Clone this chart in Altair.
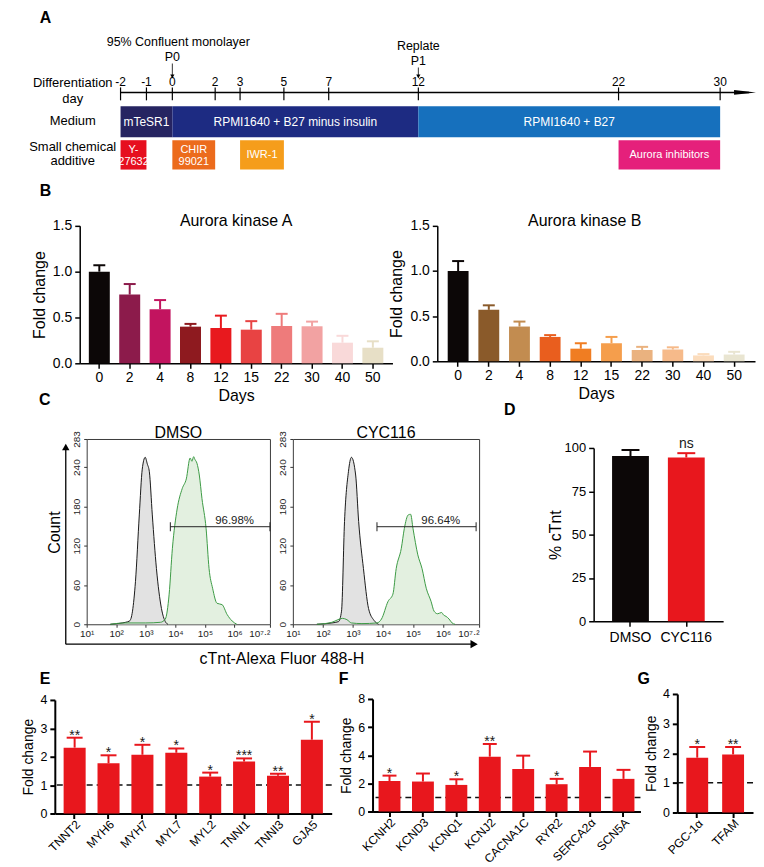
import altair as alt
import numpy as np
import pandas as pd

FONT = "Liberation Sans"
RED = "#e8171d"
BLACK = "#0c0707"

# ---------------- Panel A: protocol timeline ----------------
day_ticks = [-2, -1, 0, 2, 3, 5, 7, 12, 22, 30]
day_labels = ["-2", "-1", "0", "2", "3", "5", "7", "12", "22", "30"]
medium_names = ["mTeSR1", "RPMI1640 + B27 minus insulin", "RPMI1640 + B27"]
medium_start = [-2, 0, 12]
medium_end = [0, 12, 30]
additive_names = ["Y-\n27632", "CHIR\n99021", "IWR-1", "Aurora inhibitors"]
additive_start = [-2, 0, 3, 22]
additive_end = [-1, 2, 5, 30]
event_names = ["95% Confluent monolayer", "Replate"]
event_passages = ["P0", "P1"]
event_days = [0, 12]
row_labels = ["Differentiation\nday", "Medium", "Small chemical\nadditive"]

# ---------------- Panel B: Aurora kinase expression ----------------
days = ["0", "2", "4", "8", "12", "15", "22", "30", "40", "50"]
aurka_mean = [1.00, 0.75, 0.59, 0.40, 0.385, 0.367, 0.407, 0.404, 0.225, 0.17]
aurka_sem = [0.07, 0.115, 0.10, 0.03, 0.135, 0.093, 0.133, 0.051, 0.075, 0.07]
aurkb_mean = [1.00, 0.57, 0.385, 0.27, 0.14, 0.20, 0.125, 0.13, 0.065, 0.075]
aurkb_sem = [0.11, 0.05, 0.055, 0.02, 0.06, 0.07, 0.035, 0.025, 0.015, 0.03]

# ---------------- Panel C: flow cytometry histograms (log10 intensity, count) ----------------
dmso_gray_x = [1.8, 2.2, 2.45, 2.55, 2.65, 2.78, 2.88, 2.98, 3.05, 3.12, 3.22, 3.36, 3.53, 3.66, 3.75]
dmso_gray_y = [0, 2, 5, 20, 65, 167, 237, 255, 245, 233, 167, 85, 24, 4, 0]
dmso_green_x = [1.8, 2.3, 3.0, 3.5, 3.66, 3.79, 3.9, 4.06, 4.23, 4.37, 4.5, 4.56, 4.62, 4.66,
                4.73, 4.81, 4.9, 5.04, 5.14, 5.26, 5.41, 5.58, 5.75, 5.92, 6.08]
dmso_green_y = [0, 2, 2, 3, 8, 46, 116, 176, 207, 222, 254, 249, 256, 252,
                246, 228, 192, 146, 85, 55, 32, 30, 15, 5, 0]
cyc_gray_x = [1.8, 2.3, 2.52, 2.62, 2.72, 2.85, 2.95, 3.09, 3.19, 3.35, 3.52, 3.7, 3.85]
cyc_gray_y = [0, 2, 4, 20, 157, 233, 255, 228, 157, 85, 24, 6, 0]
cyc_green_x = [1.8, 2.3, 2.5, 2.65, 2.8, 2.95, 3.3, 3.8, 3.95, 4.17, 4.33, 4.44, 4.61, 4.71,
               4.84, 4.92, 5.0, 5.16, 5.3, 5.44, 5.6, 5.7, 5.82, 5.95, 6.02, 6.1, 6.2, 6.3, 6.4]
cyc_green_y = [0, 3, 7, 9, 7, 2, 1, 2, 8, 35, 46, 85, 116, 146,
               167, 168, 146, 106, 85, 55, 35, 20, 16, 18, 14, 12, 8, 2, 0]
dmso_gate = [3.83, 7.2, 149]
cyc_gate = [3.8, 7.1, 149]
flow_ticks = [1, 2, 3, 4, 5, 6, 7.2]
count_ticks = [0, 60, 120, 180, 240, 283]

# ---------------- Panel D ----------------
groups = ["DMSO", "CYC116"]
ctnt_mean = [95.3, 94.5]
ctnt_sem = [3.5, 2.5]
ctnt_sig = ["", "ns"]

# ---------------- Panels E, F, G ----------------
genes_e = ["TNNT2", "MYH6", "MYH7", "MYL7", "MYL2", "TNNI1", "TNNI3", "GJA5"]
fold_e = [2.32, 1.77, 2.07, 2.14, 1.30, 1.83, 1.33, 2.60]
sem_e = [0.35, 0.28, 0.35, 0.15, 0.14, 0.11, 0.07, 0.63]
sig_e = ["**", "*", "*", "*", "*", "***", "**", "*"]
genes_f = ["KCNH2", "KCND3", "KCNQ1", "KCNJ2", "CACNA1C", "RYR2", "SERCA2α", "SCN5A"]
fold_f = [2.17, 2.13, 1.89, 3.90, 3.03, 1.94, 3.17, 2.32]
sem_f = [0.38, 0.57, 0.40, 0.90, 0.94, 0.38, 1.09, 0.64]
sig_f = ["*", "", "*", "**", "", "*", "", ""]
genes_g = ["PGC-1α", "TFAM"]
fold_g = [1.85, 1.96]
sem_g = [0.36, 0.25]
sig_g = ["*", "**"]

# ---------------- styles ----------------
medium_colors = ["#262461", "#1d2b82", "#1670bd"]
additive_colors = ["#e60f1f", "#ec6b1c", "#f59d1b", "#e5207b"]
aurka_colors = ["#0c0707", "#8c1b4b", "#c2145f", "#8e1a1f", "#e8191e", "#e84343",
                "#ee7b7b", "#f2a2a2", "#f9d9d9", "#e7dfc6"]
aurkb_colors = ["#0c0707", "#8a5a2a", "#c28c50", "#e95e1e", "#f07d22", "#f59e4c",
                "#eab27f", "#f6ba8a", "#fbdcbc", "#e9e5d1"]
day_px = [110, 136, 162, 205, 230, 274, 319, 409, 610, 712]  # range of the piecewise day scale


def dummy():
    return alt.Chart(pd.DataFrame({"_": [0]}))


def letter(ch, x, y):
    return dummy().mark_text(text=ch, fontSize=16, fontWeight="bold", align="left",
                             baseline="middle", color="black").encode(
        x=alt.value(x), y=alt.value(y))


def label(txt, x, y, size=16, angle=0, align="center", baseline="middle"):
    kw = dict(text=txt, fontSize=size, align=align, baseline=baseline, color="black")
    if angle:
        kw["angle"] = angle
    return dummy().mark_text(**kw).encode(x=alt.value(x), y=alt.value(y))


def spacer(w, h):
    return dummy().mark_point(opacity=0).encode(
        x=alt.value(0), y=alt.value(0)).properties(width=w, height=h)


# ---------------- A ----------------
xs_day = alt.Scale(domain=day_ticks, range=day_px, nice=False, zero=False)


def day_x(field):
    return alt.X(field, type="quantitative", scale=xs_day, axis=None)


def mid_day(a, b):
    pa, pb = np.interp([a, b], day_ticks, day_px)
    return float(np.interp((pa + pb) / 2, day_px, day_ticks))


medium_df = pd.DataFrame({"name": medium_names, "start": medium_start, "end": medium_end})
medium_df["mid"] = [mid_day(a, b) for a, b in zip(medium_start, medium_end)]
additive_df = pd.DataFrame({"name": additive_names, "start": additive_start, "end": additive_end})
additive_df["mid"] = [mid_day(a, b) for a, b in zip(additive_start, additive_end)]
multi_line = additive_df["name"].str.contains("\n")
ticks_df = pd.DataFrame({"day": day_ticks, "label": day_labels})
additive_color = alt.Color("name:N", scale=alt.Scale(domain=additive_names, range=additive_colors),
                           legend=None)

a_layers = [
    alt.Chart(medium_df).mark_rect().encode(
        x=day_x("start"), x2="end", y=alt.value(95), y2=alt.value(126),
        color=alt.Color("name:N", scale=alt.Scale(domain=medium_names, range=medium_colors), legend=None)),
    alt.Chart(medium_df).mark_text(color="white", fontSize=12, baseline="middle").encode(
        x=day_x("mid"), y=alt.value(110.5), text="name:N"),
    alt.Chart(additive_df).mark_rect().encode(
        x=day_x("start"), x2="end", y=alt.value(129), y2=alt.value(158.5), color=additive_color),
    alt.Chart(additive_df[multi_line]).mark_text(color="white", fontSize=11, baseline="middle",
                                                 lineBreak="\n", lineHeight=12.5).encode(
        x=day_x("mid"), y=alt.value(138.5), text="name:N"),
    alt.Chart(additive_df[~multi_line]).mark_text(color="white", fontSize=11, baseline="middle").encode(
        x=day_x("mid"), y=alt.value(143.5), text="name:N"),
    alt.Chart(ticks_df).mark_rule(color="black", strokeWidth=1.2).encode(
        x=day_x("day"), y=alt.value(76), y2=alt.value(89)),
    alt.Chart(ticks_df).mark_text(fontSize=12, baseline="middle").encode(
        x=day_x("day"), y=alt.value(71), text="label:N"),
    alt.Chart(pd.DataFrame({"start": [day_ticks[0]]})).mark_rule(color="black", strokeWidth=1.5).encode(
        x=day_x("start"), x2=alt.value(741), y=alt.value(81)),
    dummy().mark_point(shape="M-1,-0.22L1,0L-1,0.22Z", filled=True, size=484, color="black",
                       opacity=1).encode(x=alt.value(737), y=alt.value(81)),
    letter("A", 29, 6),
]
event_y = [30, 34]
event_dx = [6, 0]
for i in range(len(event_names)):
    edf = pd.DataFrame({"day": [event_days[i]], "name": [event_names[i]], "p": [event_passages[i]]})
    ec = alt.Chart(edf)
    a_layers += [
        ec.mark_text(fontSize=12.5, baseline="middle", dx=event_dx[i]).encode(
            x=day_x("day"), y=alt.value(event_y[i]), text="name:N"),
        ec.mark_text(fontSize=12.5, baseline="middle").encode(
            x=day_x("day"), y=alt.value(event_y[i] + 15), text="p:N"),
        ec.mark_rule(color="black", strokeWidth=0.8).encode(
            x=day_x("day"), y=alt.value(event_y[i] + 22), y2=alt.value(66)),
        ec.mark_point(shape="triangle-down", filled=True, size=18, color="black", opacity=1).encode(
            x=day_x("day"), y=alt.value(65)),
    ]
row_label_y = [72, 110, 136]
row_label_lh = [16, 16, 14]
for txt, yy, lh in zip(row_labels, row_label_y, row_label_lh):
    a_layers.append(dummy().mark_text(text=txt, fontSize=13, lineBreak="\n", lineHeight=lh,
                                      baseline="middle", align="center", color="black").encode(
        x=alt.value(62), y=alt.value(yy)))
chart_a = alt.layer(*a_layers).resolve_scale(color="independent").properties(width=748, height=215)


# ---------------- bar panel builder ----------------
def bar_panel(cats, means, sems, colors, width, height, y_values, y_title, x_title=None,
              sig=None, pad_inner=0.3, pad_outer=0.3, label_angle=0, label_size=14,
              y_label_size=14, title_size=16, cap=12, y_format=None, ref=None, title=None,
              title_x=None, panel=None, title_pad=5, x_label_pad=2, x_title_pad=3,
              line_w=1.5, sig_size=14, sig_dy=2):
    df = pd.DataFrame({"cat": cats, "mean": means, "sem": sems})
    df["upper"] = df["mean"] + df["sem"]
    df["sig"] = sig if sig else [""] * len(cats)
    x_axis_kw = dict(labelAngle=label_angle, labelFontSize=label_size, titleFontSize=title_size,
                     titlePadding=x_title_pad, labelPadding=x_label_pad, domainWidth=line_w,
                     tickWidth=line_w, tickSize=5, labelOverlap=False)
    x_axis_kw["title"] = x_title if x_title else ""
    x = alt.X("cat:N", sort=cats, scale=alt.Scale(paddingInner=pad_inner, paddingOuter=pad_outer),
              axis=alt.Axis(**x_axis_kw))
    y_axis_kw = dict(values=y_values, title=y_title, labelFontSize=y_label_size,
                     titleFontSize=title_size, titlePadding=title_pad, labelPadding=3,
                     domainWidth=line_w, tickWidth=line_w, tickSize=5)
    if y_format:
        y_axis_kw["format"] = y_format
    yscale = alt.Scale(domain=[y_values[0], y_values[-1]], nice=False, zero=True)

    def y(field):
        return alt.Y(field, type="quantitative", scale=yscale, axis=alt.Axis(**y_axis_kw))

    color = alt.Color("cat:N", sort=cats, scale=alt.Scale(domain=cats, range=colors), legend=None)
    base = alt.Chart(df)
    layers = []
    if ref is not None:
        layers.append(alt.Chart(pd.DataFrame({"ref": [ref]})).mark_rule(
            color="#111111", strokeWidth=1.5, strokeDash=[6, 4]).encode(y=y("ref")))
    layers += [
        base.mark_rule(strokeWidth=2).encode(x=x, y=y("mean"), y2="upper", color=color),
        base.mark_tick(size=cap, thickness=2, opacity=1).encode(x=x, y=y("upper"), color=color),
        base.mark_bar(opacity=1).encode(x=x, y=y("mean"), color=color),
        base.mark_text(fontSize=sig_size, baseline="alphabetic", dy=sig_dy, color="#1a1a1a").encode(
            x=x, y=y("upper"), text="sig:N"),
    ]
    if title:
        layers.append(label(title, title_x if title_x is not None else width / 2, 0, size=16,
                            baseline="alphabetic"))
    if panel:
        layers.append(letter(*panel))
    return alt.layer(*layers).properties(width=width, height=height)


# ---------------- flow panel builder ----------------
def flow_panel(title, gray_x, gray_y, green_x, green_y, gate, gate_label, width, height, extra=()):
    xsc = alt.Scale(domain=[1, 7.2], nice=False, zero=False)
    ysc = alt.Scale(domain=[0, 283], nice=False, zero=False)
    x_axis = alt.Axis(values=flow_ticks, title=None, domain=False, tickSize=3, labelFontSize=10,
                      labelPadding=1, labelFlush=False, labelOverlap=False, tickColor="#333333",
                      labelColor="#222222",
                      labelAlign={"condition": {"test": "datum.value == 7.2", "value": "right"},
                                  "value": "center"},
                      labelExpr="datum.value == 7.2 ? '10⁷·²' : '10' + ['⁰','¹','²','³','⁴','⁵','⁶'][datum.value]")
    y_axis = alt.Axis(values=count_ticks, title=None, domain=False, tickSize=3, labelAngle=-90,
                      labelAlign="center", labelBaseline="bottom", labelFontSize=10, labelPadding=2,
                      labelOverlap=False, tickColor="#333333", labelColor="#222222")

    def xq(f):
        return alt.X(f, type="quantitative", scale=xsc, axis=x_axis)

    def yq(f):
        return alt.Y(f, type="quantitative", scale=ysc, axis=y_axis)

    gdf = pd.DataFrame({"x": gray_x, "y": gray_y})
    ndf = pd.DataFrame({"x": green_x, "y": green_y})
    gate_df = pd.DataFrame({"lo": [gate[0]], "hi": [gate[1]], "y": [gate[2]], "label": [gate_label]})
    ends_df = pd.DataFrame({"x": [gate[0], gate[1]], "y": [gate[2], gate[2]]})
    layers = [
        alt.Chart(ndf).mark_area(color="#e3f0e0", opacity=1, interpolate="monotone").encode(
            x=xq("x"), y=yq("y")),
        alt.Chart(gdf).mark_area(color="#e2e2e2", opacity=1, interpolate="monotone",
                                 line=alt.OverlayMarkDef(color="#1a1a1a", strokeWidth=1)).encode(
            x=xq("x"), y=yq("y")),
        alt.Chart(ndf).mark_line(color="#3c9a45", strokeWidth=1, interpolate="monotone").encode(
            x=xq("x"), y=yq("y")),
        alt.Chart(gate_df).mark_rule(color="#222222", strokeWidth=1).encode(
            x=xq("lo"), x2="hi", y=yq("y")),
        alt.Chart(ends_df).mark_tick(orient="vertical", size=9, thickness=1, color="#222222",
                                     opacity=1).encode(x=xq("x"), y=yq("y")),
        alt.Chart(gate_df).mark_text(fontSize=11.5, align="right", baseline="bottom", dx=-16,
                                     dy=-1, color="#222222").encode(
            x=xq("hi"), y=yq("y"), text="label:N"),
        label(title, width / 2, -1, size=16, baseline="alphabetic"),
    ]
    layers += list(extra)
    return alt.layer(*layers).properties(
        width=width, height=height, view=alt.ViewBackground(stroke="#3a3a3a", strokeWidth=1))


flow_extra = [
    dummy().mark_rule(color="black", strokeWidth=1.3).encode(
        x=alt.value(-21), y=alt.value(206), y2=alt.value(10)),
    dummy().mark_point(shape="triangle-up", filled=True, size=55, color="black", opacity=1).encode(
        x=alt.value(-21), y=alt.value(8)),
    dummy().mark_rule(color="black", strokeWidth=1.3).encode(
        x=alt.value(-21), x2=alt.value(388), y=alt.value(206)),
    dummy().mark_point(shape="triangle-right", filled=True, size=70, color="black", opacity=1).encode(
        x=alt.value(389), y=alt.value(206)),
    label("Count", -32, 94, size=16, angle=270),
    label("cTnt-Alexa Fluor 488-H", 196, 221, size=16),
    letter("C", -48, -39),
]

# ---------------- build panels ----------------
chart_bl = bar_panel(days, aurka_mean, aurka_sem, aurka_colors, 314, 138, [0, 0.5, 1.0, 1.5],
                     "Fold change", x_title="Days", pad_inner=0.31, pad_outer=0.3, cap=12,
                     y_format=".1f", title="Aurora kinase A", panel=("B", -40, -35))
chart_br = bar_panel(days, aurkb_mean, aurkb_sem, aurkb_colors, 319, 136, [0, 0.5, 1.0, 1.5],
                     "Fold change", x_title="Days", pad_inner=0.32, pad_outer=0.34, cap=12,
                     y_format=".1f", title="Aurora kinase B", title_x=148)
chart_fl = flow_panel("DMSO", dmso_gray_x, dmso_gray_y, dmso_green_x, dmso_green_y, dmso_gate,
                      "96.98%", 184, 186, extra=flow_extra)
chart_fr = flow_panel("CYC116", cyc_gray_x, cyc_gray_y, cyc_green_x, cyc_green_y, cyc_gate,
                      "96.64%", 187, 186)
chart_d = bar_panel(groups, ctnt_mean, ctnt_sem, [BLACK, RED], 130, 174, [0, 25, 50, 75, 100],
                    "% cTnt", sig=ctnt_sig, pad_inner=0.34, pad_outer=0.33, y_label_size=13,
                    cap=18, sig_dy=-5, panel=("D", -90, -38), title_pad=1, x_label_pad=4)
chart_e = bar_panel(genes_e, fold_e, sem_e, [RED] * 8, 278, 114, [0, 1, 2, 3, 4], "Fold change",
                    sig=sig_e, pad_inner=0.35, pad_outer=0.26, label_angle=-45, label_size=12,
                    y_label_size=12.5, title_size=14, cap=16, ref=1, panel=("E", -15, -21),
                    title_pad=4, line_w=2, x_label_pad=0)
chart_f = bar_panel(genes_f, fold_f, sem_f, [RED] * 8, 269, 113, [0, 2, 4, 6, 8], "Fold change",
                    sig=sig_f, pad_inner=0.345, pad_outer=0.18, label_angle=-45, label_size=12,
                    y_label_size=12.5, title_size=14, cap=14, ref=1, panel=("F", -34, -20),
                    title_pad=4, line_w=2, x_label_pad=0)
chart_g = bar_panel(genes_g, fold_g, sem_g, [RED] * 2, 76, 119, [0, 1, 2, 3, 4], "Fold change",
                    sig=sig_g, pad_inner=0.39, pad_outer=0.25, label_angle=-45, label_size=12,
                    y_label_size=12.5, title_size=14, cap=16, ref=1, panel=("G", -40, -15),
                    title_pad=4, line_w=2, x_label_pad=0)


def hrow(*items):
    return alt.hconcat(*items, spacing=0, bounds="flush").resolve_scale(color="independent")


def vcol(*items):
    return alt.vconcat(*items, spacing=0, bounds="flush").resolve_scale(color="independent")


# With flush bounds, nested concat groups occupy no layout room, so the spacers
# that follow them carry their extent.
row_b = hrow(spacer(69, 1), chart_bl, spacer(45, 1), chart_br)
row_c = hrow(spacer(76, 1), chart_fl, spacer(23, 1), chart_fr, spacer(115, 1),
             vcol(spacer(130, 9), chart_d))
row_e = hrow(spacer(44, 1), vcol(spacer(278, 6), chart_e), spacer(41 + 278, 1),
             vcol(spacer(269, 5), chart_f), spacer(37 + 269, 1), chart_g)

chart = alt.vconcat(chart_a, row_b, spacer(10, 138 + 76), row_c, spacer(10, 186 + 70), row_e,
                    spacing=0, bounds="flush").resolve_scale(color="independent").properties(
    padding={"left": 0, "top": 0, "right": 0, "bottom": 2}).configure(font=FONT).configure_view(
    strokeWidth=0).configure_axis(
    grid=False, domainColor="black", tickColor="black", labelColor="black", titleColor="black",
    titleFontWeight="normal", labelFont=FONT, titleFont=FONT).configure_text(font=FONT)

chart.save("out.html", embed_options={"renderer": "svg", "actions": False})
